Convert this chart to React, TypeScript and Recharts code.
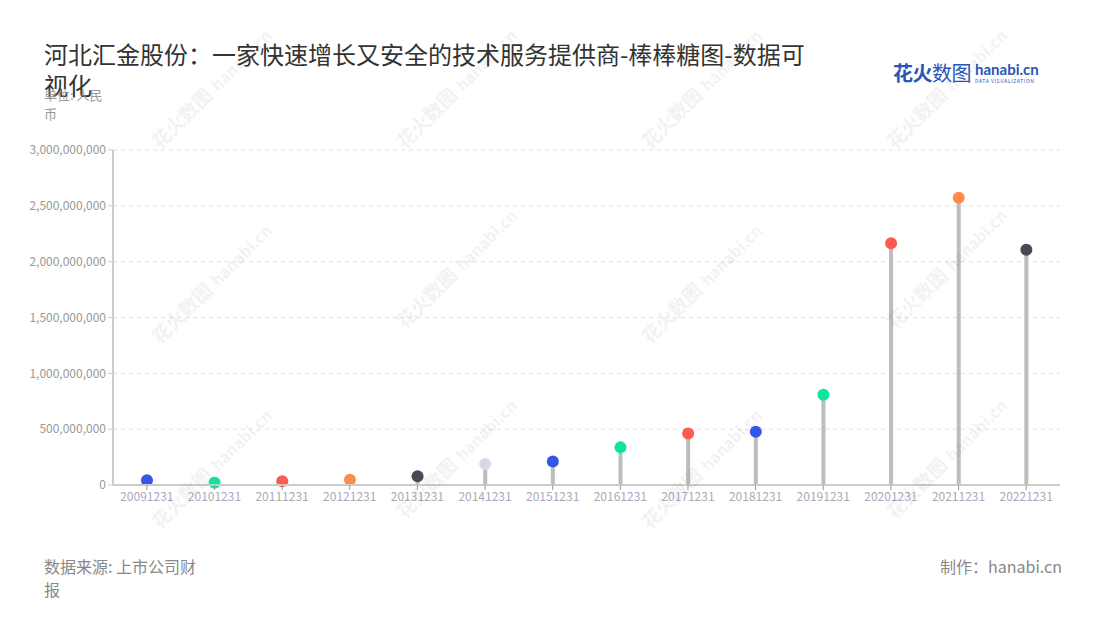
import { BarChart, Bar, XAxis, YAxis, CartesianGrid } from 'recharts';

const dates = [
  '20091231', '20101231', '20111231', '20121231', '20131231', '20141231', '20151231',
  '20161231', '20171231', '20181231', '20191231', '20201231', '20211231', '20221231',
];

const values = [
  42000000, 21000000, 33000000, 48000000, 78000000, 188000000, 211000000,
  337000000, 462000000, 477000000, 808000000, 2164000000, 2573000000, 2107000000,
];

const dotColors = [
  '#3557e8', '#0fe3a0', '#ff5a50', '#ff8c4c', '#4a4a55', '#d9d9e6', '#3557e8',
  '#0fe3a0', '#ff5a50', '#3557e8', '#0fe3a0', '#ff5a50', '#ff8c4c', '#4a4a55',
];

const yTicks = [0, 500000000, 1000000000, 1500000000, 2000000000, 2500000000, 3000000000];

const data = dates.map((d, i) => ({ date: d, value: values[i], color: dotColors[i] }));

const FONT = '"Noto Sans CJK SC", "Noto Sans", sans-serif';

function Lollipop(props: any) {
  const { x, y, width, height, payload } = props;
  const cx = x + width / 2;
  return (
    <g>
      <rect x={x} y={y} width={width} height={Math.max(height, 0)} fill="#bdbdbd" />
      <circle cx={cx} cy={y} r={6} fill={payload.color} />
    </g>
  );
}

const marks = [
  [160, 150], [405, 150], [650, 150], [895, 150],
  [160, 345], [405, 330], [650, 345], [895, 330],
  [160, 530], [405, 520], [650, 530], [895, 520],
];

function Watermarks() {
  return (
    <svg width={1100} height={620} style={{ position: 'absolute', left: 0, top: 0, pointerEvents: 'none' }}>
      {marks.map(([mx, my], i) => (
        <g key={i} transform={`translate(${mx},${my}) rotate(-45)`} opacity={0.06}>
          <text x={0} y={0} fontSize={19} fontWeight={700} fill="#333" fontFamily={FONT}>花火数图</text>
          <text x={82} y={0} fontSize={16} fontWeight={700} fill="#333" fontFamily={FONT}>hanabi.cn</text>
        </g>
      ))}
    </svg>
  );
}

export default function App() {
  return (
    <div style={{ position: 'relative', width: 1100, height: 620, margin: -8, background: '#fff', fontFamily: FONT, overflow: 'hidden' }}>
      <div style={{ position: 'absolute', left: 44, top: 38, width: 775, fontSize: 24, lineHeight: '31px', color: '#333' }}>
        河北汇金股份：一家快速增长又安全的技术服务提供商-棒棒糖图-数据可视化
      </div>
      <div style={{ position: 'absolute', left: 44, top: 85, width: 66, fontSize: 13, lineHeight: '19px', color: '#999' }}>
        单位: 人民币
      </div>
      <div style={{ position: 'absolute', left: 893, top: 58, display: 'flex', alignItems: 'center' }}>
        <span style={{ fontSize: 20, fontWeight: 700, color: '#2a56b8', letterSpacing: -0.5 }}>
          花火<span style={{ fontWeight: 400 }}>数图</span>
        </span>
        <span style={{ marginLeft: 4, display: 'flex', flexDirection: 'column', lineHeight: 1 }}>
          <span style={{ fontSize: 15, fontWeight: 700, color: '#2a56b8', fontFamily: 'Lato, sans-serif' }}>hanabi.cn</span>
          <span style={{ fontSize: 5, color: '#2a56b8', letterSpacing: 0.6, marginTop: 1 }}>DATA VISUALIZATION</span>
        </span>
      </div>
      <div style={{ position: 'absolute', left: 0, top: 0 }}>
        <BarChart
          width={1100}
          height={620}
          data={data}
          margin={{ top: 150, right: 40, bottom: 105, left: 43 }}
        >
          <CartesianGrid vertical={false} strokeDasharray="4 4" stroke="#e0e0e0" />
          <XAxis
            dataKey="date"
            height={30}
            interval={0}
            stroke="#cccccc"
            tickSize={5}
            tick={{ fill: '#a9a9b8', fontSize: 12, fontFamily: FONT }}
            axisLine={{ stroke: '#cccccc', strokeWidth: 2 }}
            tickLine={{ stroke: '#999' }}
          />
          <YAxis
            width={70}
            domain={[0, 3000000000]}
            ticks={yTicks}
            interval={0}
            tickSize={5}
            tickFormatter={(v: number) => v.toLocaleString('en-US')}
            tick={{ fill: '#999', fontSize: 12, fontFamily: FONT }}
            axisLine={{ stroke: '#cccccc', strokeWidth: 2 }}
            tickLine={{ stroke: '#cccccc' }}
          />
          <Bar dataKey="value" barSize={4} shape={Lollipop} isAnimationActive={false} />
        </BarChart>
      </div>
      <Watermarks />
      <div style={{ position: 'absolute', left: 44, top: 555, width: 158, fontSize: 16, lineHeight: '23px', color: '#888' }}>
        数据来源: 上市公司财报
      </div>
      <div style={{ position: 'absolute', right: 38, top: 555, fontSize: 16, lineHeight: '23px', color: '#888' }}>
        制作：hanabi.cn
      </div>
    </div>
  );
}
